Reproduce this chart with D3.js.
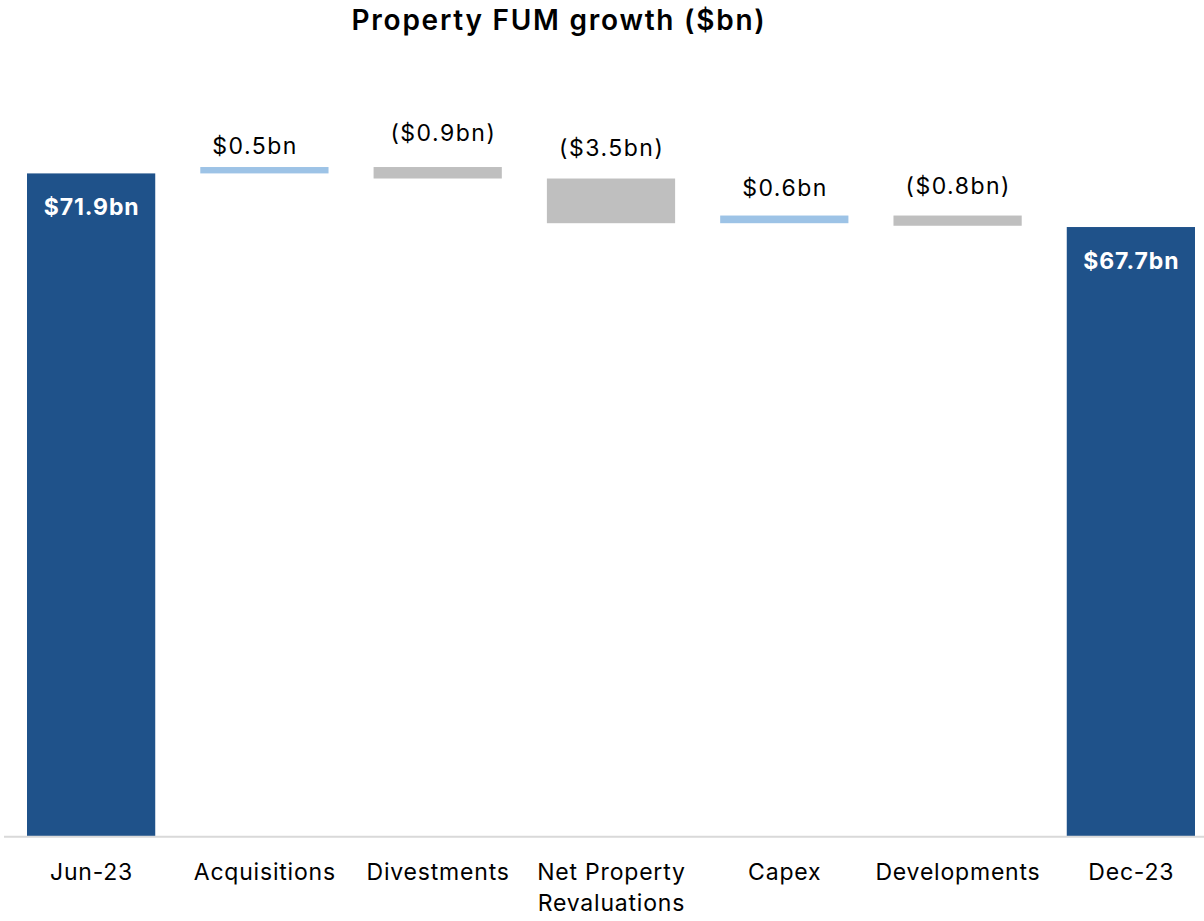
<!DOCTYPE html>
<html>
<head>
<meta charset="utf-8">
<script src="https://cdn.jsdelivr.net/npm/d3@7"></script>
<style>
  html, body { margin: 0; padding: 0; background: #ffffff; }
  svg { display: block; font-family: "Inter", "Noto Sans", sans-serif; }
</style>
</head>
<body>
<svg id="chart" width="1204" height="921"></svg>
<script>
// Property FUM movement, $bn
const categories = ["Jun-23", "Acquisitions", "Divestments", "Net Property Revaluations", "Capex", "Developments", "Dec-23"];
const kinds      = ["total", "delta", "delta", "delta", "delta", "delta", "total"];
const values     = [71.9, 0.5, -0.9, -3.5, 0.6, -0.8, 67.7];
const yDomain    = [20, 80];

// Layout / style
const W = 1204, H = 921;
const baseY = 836, topY = 70;
const colors = { total: "#1F528A", up: "#9DC3E6", down: "#BFBFBF" };
const labelLift  = [0, 13, 26, 23, 20, 22, 0]; // gap between step bar top and its label baseline
const labelShift = [0, -10, 5, 0, 0, 0, 0];     // horizontal nudge of step labels

const svg = d3.select("#chart");

const x = d3.scaleBand()
  .domain(categories)
  .range([27, 1195])
  .paddingInner(0.26)
  .paddingOuter(0);

const y = d3.scaleLinear().domain(yDomain).range([baseY, topY]);

// Build running waterfall segments
let running = 0;
const bars = categories.map((c, i) => {
  const v = values[i];
  let lo, hi, fill;
  if (kinds[i] === "total") {
    lo = yDomain[0]; hi = v; running = v; fill = colors.total;
  } else {
    const start = running, end = running + v;
    lo = Math.min(start, end); hi = Math.max(start, end);
    running = end;
    fill = v >= 0 ? colors.up : colors.down;
  }
  return { c, i, v, kind: kinds[i], lo, hi, fill };
});

const fmt = v => {
  const s = "$" + d3.format(".1f")(Math.abs(v)) + "bn";
  return v < 0 ? "(" + s + ")" : s;
};

// Title
svg.append("text")
  .attr("x", 559).attr("y", 30)
  .attr("text-anchor", "middle")
  .attr("font-size", 28)
  .attr("font-weight", 600)
  .attr("letter-spacing", 1.75)
  .attr("fill", "#000")
  .text("Property FUM growth ($bn)");

// Bars
svg.append("g").selectAll("rect")
  .data(bars)
  .join("rect")
  .attr("x", d => x(d.c))
  .attr("width", x.bandwidth())
  .attr("y", d => y(d.hi))
  .attr("height", d => y(d.lo) - y(d.hi))
  .attr("fill", d => d.fill);

// Baseline
svg.append("line")
  .attr("x1", 4).attr("x2", W)
  .attr("y1", baseY + 0.8).attr("y2", baseY + 0.8)
  .attr("stroke", "#D9D9D9")
  .attr("stroke-width", 2);

// Value labels
const lbl = svg.append("g");
bars.forEach(d => {
  const cx = x(d.c) + x.bandwidth() / 2;
  if (d.kind === "total") {
    lbl.append("text")
      .attr("x", cx + 0.5).attr("y", y(d.hi) + 42)
      .attr("text-anchor", "middle")
      .attr("font-size", 23)
      .attr("font-weight", 700)
      .attr("letter-spacing", 0.9)
      .attr("fill", "#fff")
      .text(fmt(d.v));
  } else {
    lbl.append("text")
      .attr("x", cx + 0.7 + labelShift[d.i]).attr("y", y(d.hi) - labelLift[d.i])
      .attr("text-anchor", "middle")
      .attr("font-size", 23)
      .attr("letter-spacing", 1.5)
      .attr("fill", "#000")
      .text(fmt(d.v));
  }
});

// Category axis labels
const xAxis = d3.axisBottom(x).tickSize(0).tickPadding(0);
const ax = svg.append("g")
  .attr("transform", `translate(0,${baseY})`)
  .call(xAxis);
ax.select(".domain").remove();
ax.selectAll("text")
  .attr("font-size", 23)
  .attr("font-family", "Inter, 'Noto Sans', sans-serif")
  .attr("letter-spacing", 0.8)
  .attr("fill", "#000")
  .attr("dy", null)
  .attr("y", 44)
  .each(function() {
    const t = d3.select(this);
    const words = t.text().split(/\s+/);
    const maxW = x.step();
    t.text(null);
    let line = [];
    let lineNo = 0;
    let tspan = t.append("tspan").attr("x", 0.4).attr("y", 44);
    words.forEach(w => {
      line.push(w);
      tspan.text(line.join(" "));
      if (tspan.node().getComputedTextLength() > maxW && line.length > 1) {
        line.pop();
        tspan.text(line.join(" "));
        line = [w];
        lineNo++;
        tspan = t.append("tspan").attr("x", 0.4).attr("y", 44 + lineNo * 31).text(w);
      }
    });
  });
</script>
</body>
</html>
